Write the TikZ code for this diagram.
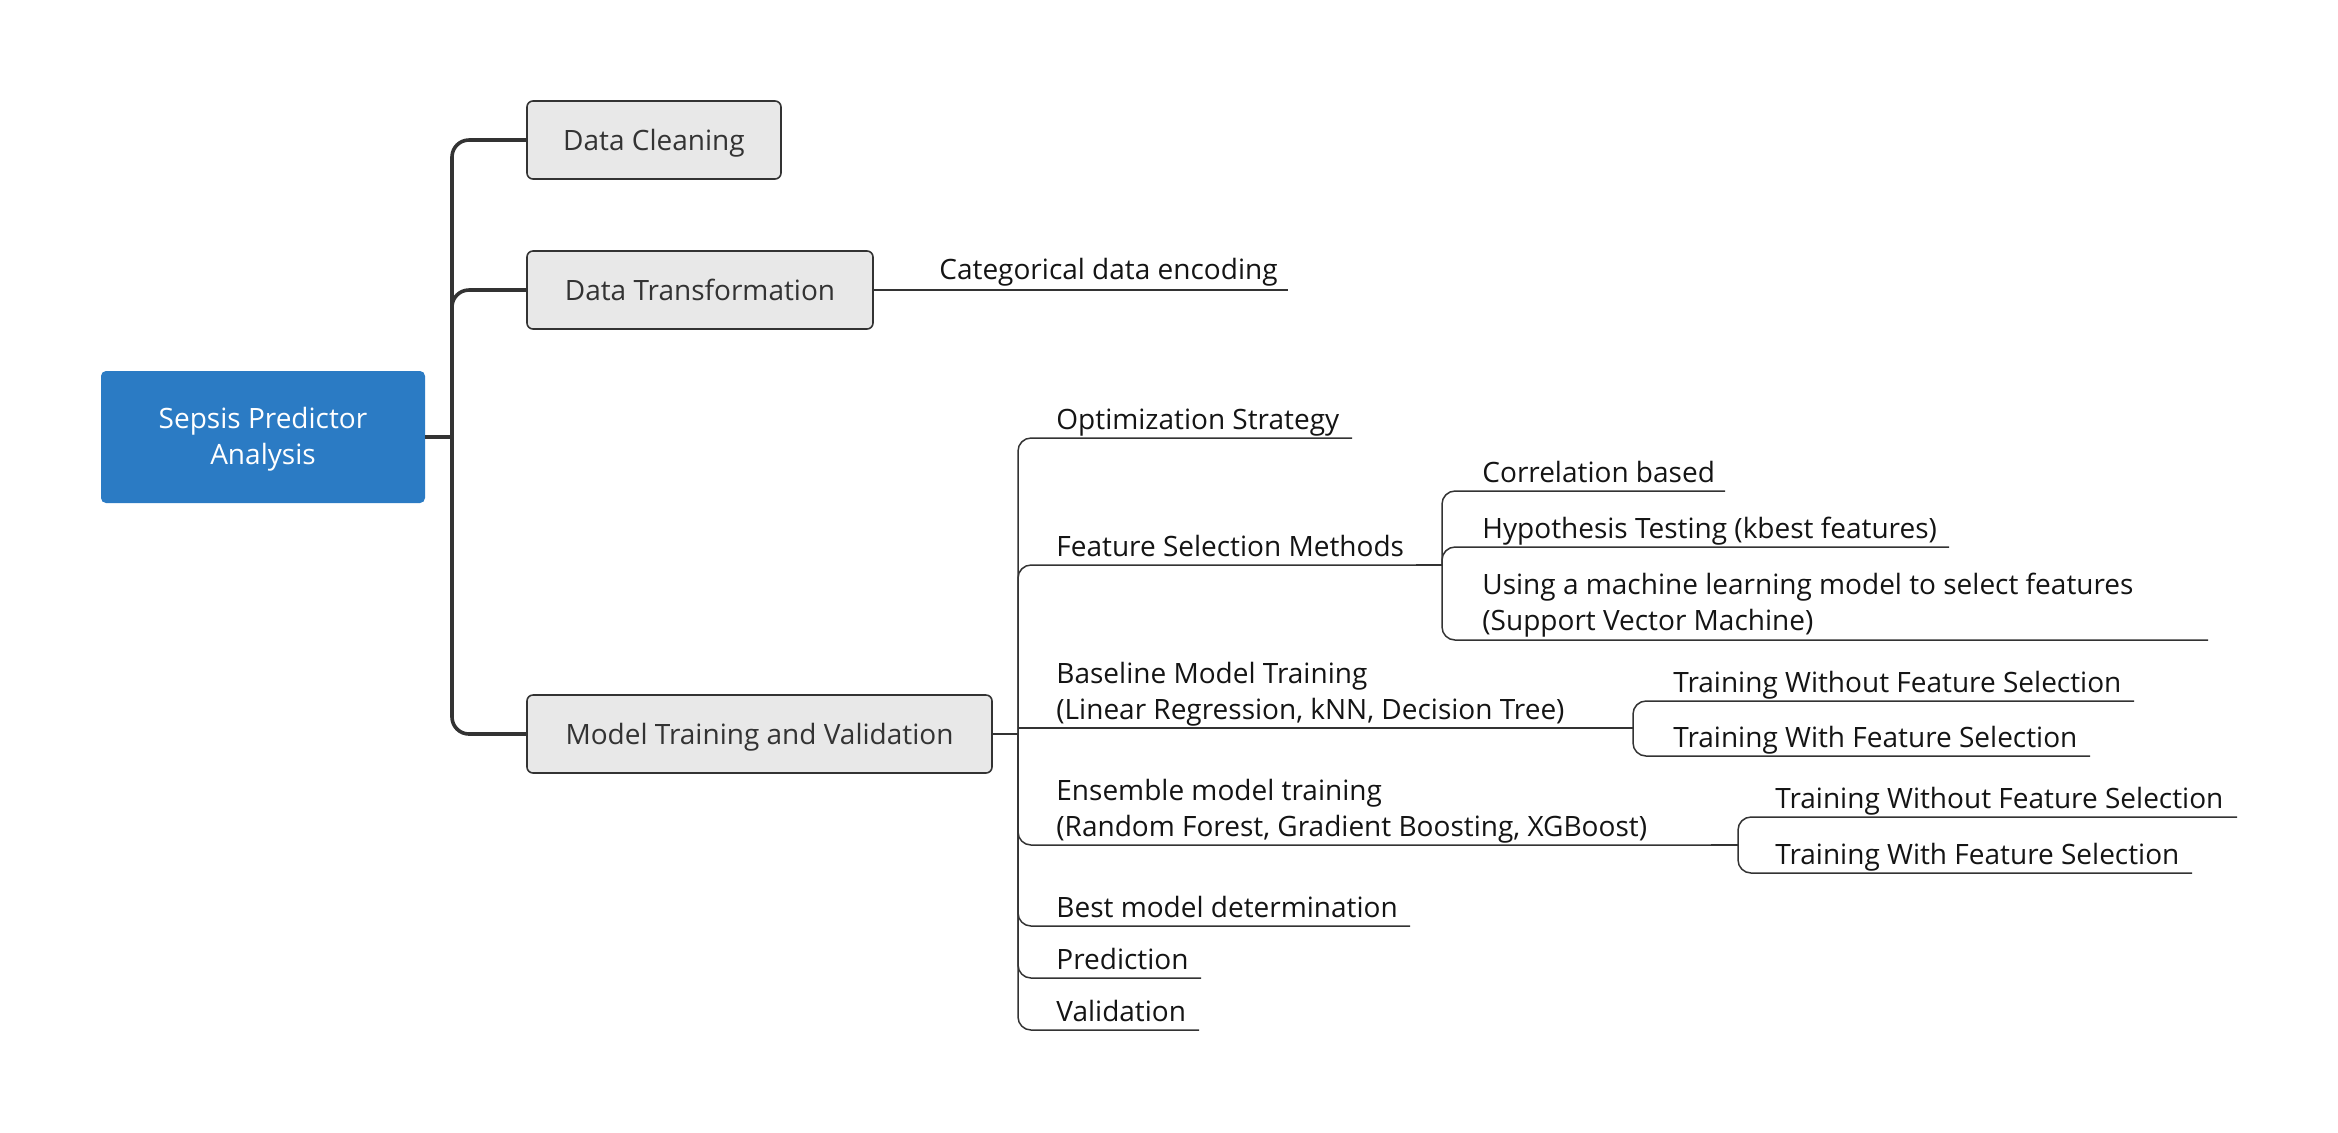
\documentclass[tikz,border=0pt]{standalone}
\usepackage{fontspec}
\setmainfont{Open Sans}
\definecolor{rootblue}{RGB}{43,123,196}
\definecolor{boxfill}{RGB}{232,232,232}
\definecolor{boxtext}{RGB}{51,51,51}
\definecolor{linec}{RGB}{51,51,51}
\definecolor{leaftext}{RGB}{20,20,20}
\begin{document}
\begin{tikzpicture}[x=0.5pt,y=-0.5pt,
  every node/.style={font=\fontsize{14pt}{18pt}\selectfont},
  box/.style={draw=linec, line width=0.8pt, fill=boxfill, rounded corners=3pt, minimum height=39pt, inner sep=0pt, text=boxtext, text height=10pt, text depth=0pt},
  rootbox/.style={fill=rootblue, rounded corners=2.5pt, minimum width=162pt, minimum height=66pt, text=white, align=center, inner sep=0pt},
  trunk/.style={draw=linec, line width=1.8pt, rounded corners=8.5pt},
  lk/.style={draw=linec, line width=0.75pt, rounded corners=6.5pt},
  stub/.style={draw=linec, line width=1.3pt},
  lbl/.style={anchor=base west, inner sep=0pt, text=leaftext},
]
\useasboundingbox (0,0) rectangle (2338,1132);

% main nodes
\node[rootbox] (root) at (263,437) {};
\node[anchor=base, text=white, inner sep=0pt] (rootA) at (263,428) {Sepsis Predictor};
\node[anchor=base, text=white, inner sep=0pt] (rootB) at (263,464) {Analysis};
\node[box, minimum width=127pt] (dc) at (654,140) {Data Cleaning};
\node[box, minimum width=173pt] (dt) at (700,290) {Data Transformation};
\node[box, minimum width=232.5pt] (mt) at (759.5,734) {Model Training and Validation};

% trunk
\coordinate (tj) at (452,437);
\draw[trunk] (root.east) -- (tj);
\draw[trunk] (tj) |- (dc.west);
\draw[trunk] (tj) |- (dt.west);
\draw[trunk] (tj) |- (mt.west);

% data transformation child
\coordinate (ceU) at (1288,290);
\draw[lk] (dt.east) -- (ceU);
\node[lbl] (ce) at (939,279) {Categorical data encoding};

% model training children
\coordinate (mj) at (1018,734);
\draw[stub] (mt.east) -- (mj);

\coordinate (osU) at (1352,438);
\draw[lk] (mj) |- (osU);
\node[lbl] (os) at (1056,429) {Optimization Strategy};

\coordinate (fsU) at (1416,565);
\coordinate (fj) at (1442,565);
\draw[lk] (mj) |- (fsU);
\draw[stub] (fsU) -- (fj);
\node[lbl] (fs) at (1056,556) {Feature Selection Methods};

\coordinate (blS) at (1018,728);
\coordinate (blU) at (1607,728);
\coordinate (bj) at (1633,728);
\draw[lk] (blS) -- (blU);
\draw[stub] (blU) -- (bj);
\node[lbl] (bl) at (1056,719) {\begin{tabular}[b]{@{}l@{}}Baseline Model Training\\(Linear Regression, kNN, Decision Tree)\end{tabular}};

\coordinate (enU) at (1711,845);
\coordinate (ej) at (1738,845);
\draw[lk] (mj) |- (enU);
\draw[stub] (enU) -- (ej);
\node[lbl] (en) at (1056,836) {\begin{tabular}[b]{@{}l@{}}Ensemble model training\\(Random Forest, Gradient Boosting, XGBoost)\end{tabular}};

\coordinate (bmU) at (1410,926);
\draw[lk] (mj) |- (bmU);
\node[lbl] (bm) at (1056,917) {Best model determination};

\coordinate (prU) at (1201,978);
\draw[lk] (mj) |- (prU);
\node[lbl] (pr) at (1056,969) {Prediction};

\coordinate (vaU) at (1199,1030);
\draw[lk] (mj) |- (vaU);
\node[lbl] (va) at (1056,1021) {Validation};

% feature selection children
\coordinate (coU) at (1725,491);
\draw[lk] (fj) |- (coU);
\node[lbl] (co) at (1482,482) {Correlation based};

\coordinate (hyU) at (1949,547);
\draw[lk] (fj) |- (hyU);
\node[lbl] (hy) at (1482,538) {Hypothesis Testing (kbest features)};

\coordinate (usU) at (2208,640);
\draw[lk] (fj) |- (usU);
\node[lbl] (us) at (1482,630) {\begin{tabular}[b]{@{}l@{}}Using a machine learning model to select features\\(Support Vector Machine)\end{tabular}};

% baseline children
\coordinate (bwU) at (2134,701);
\draw[lk] (bj) |- (bwU);
\node[lbl] (bw) at (1673,692) {Training Without Feature Selection};

\coordinate (bfU) at (2090,756);
\draw[lk] (bj) |- (bfU);
\node[lbl] (bf) at (1673,747) {Training With Feature Selection};

% ensemble children
\coordinate (ewU) at (2237,817);
\draw[lk] (ej) |- (ewU);
\node[lbl] (ew) at (1775,808) {Training Without Feature Selection};

\coordinate (efU) at (2192,873);
\draw[lk] (ej) |- (efU);
\node[lbl] (ef) at (1775,864) {Training With Feature Selection};
\end{tikzpicture}
\end{document}
